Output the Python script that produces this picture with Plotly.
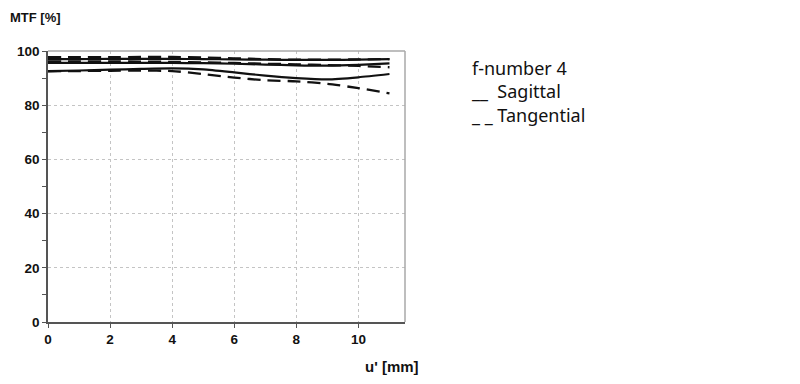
import plotly.graph_objects as go

x_mm = [0, 1, 2, 3, 4, 5, 6, 7, 8, 9, 10, 11]

sag_1 = [97.0, 97.0, 97.1, 97.1, 97.1, 97.0, 96.9, 96.8, 96.7, 96.7, 96.8, 97.0]
sag_2 = [95.6, 95.6, 95.6, 95.6, 95.6, 95.5, 95.3, 95.0, 94.7, 94.6, 94.9, 95.4]
sag_3 = [92.6, 92.8, 93.1, 93.4, 93.6, 93.2, 92.1, 90.9, 90.0, 89.5, 90.3, 91.5]

tan_1 = [97.7, 97.7, 97.7, 97.8, 97.8, 97.6, 97.3, 97.0, 96.8, 96.8, 96.9, 97.0]
tan_2 = [96.2, 96.2, 96.2, 96.1, 96.0, 95.8, 95.6, 95.3, 95.1, 94.8, 94.5, 94.0]
tan_3 = [92.5, 92.6, 92.7, 92.8, 92.6, 91.5, 90.2, 89.2, 88.8, 87.9, 86.3, 84.4]

x_ticks = [0, 2, 4, 6, 8, 10]
y_ticks = [0, 20, 40, 60, 80, 100]

legend_lines = ["f-number 4", "__  Sagittal", "_ _ Tangential"]

# page body has an 8px margin, so figure coordinates = window coordinates - 8
OFF = 8
W, H = 800, 384
L, T = 48 - OFF, 51 - OFF
R = W - (405 - OFF)
B = H - (322 - OFF)
PW, PH = W - L - R, H - T - B


def px(p):
    return (p - OFF - L) / PW


def py(p):
    return (H - B - (p - OFF)) / PH


fig = go.Figure()
for ys in (sag_1, sag_2, sag_3):
    fig.add_trace(go.Scatter(x=x_mm, y=ys, mode="lines", line=dict(color="#111111", width=2.2, shape="spline", smoothing=0.6), showlegend=False, hoverinfo="skip"))
for ys in (tan_1, tan_2, tan_3):
    fig.add_trace(go.Scatter(x=x_mm, y=ys, mode="lines", line=dict(color="#111111", width=2.3, dash="13px,7px", shape="spline", smoothing=0.6), showlegend=False, hoverinfo="skip"))

axis_font = dict(family="Liberation Sans, Arial, sans-serif", size=13.5, color="#111111")

fig.update_xaxes(range=[0, 11.5], tickvals=x_ticks, ticktext=["<b>%d</b>" % v for v in x_ticks],
                 showgrid=True, gridcolor="#c4c4c4", griddash="dot", gridwidth=1,
                 showline=True, linecolor="#555555", linewidth=1.5,
                 ticks="outside", ticklen=4, tickcolor="#555555",
                 tickfont=axis_font, zeroline=False, fixedrange=True, automargin=False)
fig.update_yaxes(range=[0, 100], tickvals=y_ticks, ticktext=["<b>%d</b>" % v for v in y_ticks],
                 showgrid=True, gridcolor="#c4c4c4", griddash="dot", gridwidth=1,
                 showline=True, linecolor="#555555", linewidth=1.5,
                 ticks="outside", ticklen=4, tickcolor="#555555",
                 minor=dict(dtick=10, ticks="outside", ticklen=4, tickcolor="#555555", showgrid=False),
                 tickfont=axis_font, zeroline=False, fixedrange=True, automargin=False)

fig.add_shape(type="line", xref="x domain", yref="y domain", x0=0, x1=1, y0=1, y1=1,
              line=dict(color="#a8a8a8", width=1.5))
fig.add_shape(type="line", xref="x domain", yref="y domain", x0=1, x1=1, y0=0, y1=1,
              line=dict(color="#a8a8a8", width=1.5))

bold = dict(family="Liberation Sans, Arial, sans-serif", size=13, color="#111111")
fig.add_annotation(text="<b>MTF [%]</b>", xref="paper", yref="paper", x=px(8), y=py(8),
                   xanchor="left", yanchor="top", showarrow=False, font=bold)
fig.add_annotation(text="<b>u' [mm]</b>", xref="paper", yref="paper", x=px(421), y=py(366),
                   xanchor="right", yanchor="middle", showarrow=False, font=dict(bold, size=15))

leg_font = dict(family="Noto Sans, Open Sans, sans-serif", size=18, color="#111111")
fig.add_annotation(text="<br>".join(legend_lines), xref="paper", yref="paper", x=px(469), y=py(91),
                   xanchor="left", yanchor="middle", align="left", showarrow=False, font=leg_font)

fig.update_layout(width=W, height=H, margin=dict(l=L, r=R, t=T, b=B, pad=0),
                  paper_bgcolor="white", plot_bgcolor="white", showlegend=False)

fig.write_html("out.html")
